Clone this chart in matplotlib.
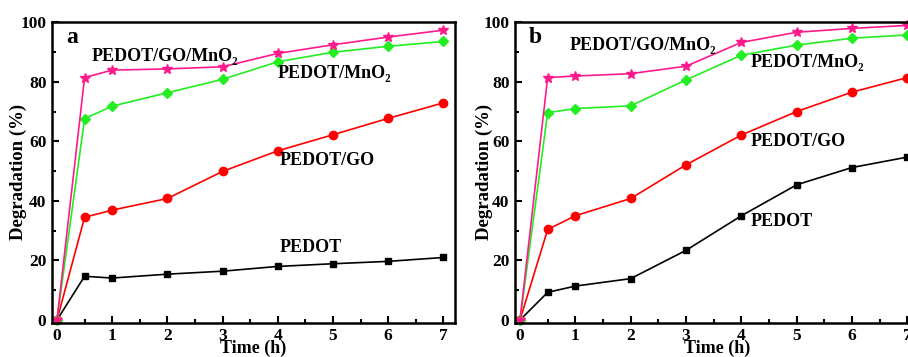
import matplotlib
matplotlib.use('Agg')
import matplotlib.pyplot as plt
from matplotlib.ticker import MultipleLocator

plt.rcParams['font.family'] = ['Liberation Serif', 'DejaVu Serif']
plt.rcParams['font.weight'] = 'bold'

time_h = [0, 0.5, 1, 2, 3, 4, 5, 6, 7]

# panel a
a_pedot = [0, 14.7, 14.1, 15.4, 16.4, 18.0, 18.9, 19.7, 21.0]
a_pedot_go = [0, 34.5, 36.9, 40.8, 49.9, 56.8, 62.2, 67.7, 72.9]
a_pedot_mno2 = [0, 67.6, 71.8, 76.3, 80.8, 86.7, 89.9, 91.9, 93.5]
a_pedot_go_mno2 = [0, 81.4, 83.9, 84.3, 85.0, 89.5, 92.4, 95.0, 97.3]

# panel b
b_pedot = [0, 9.3, 11.4, 13.9, 23.4, 35.0, 45.4, 51.2, 54.7]
b_pedot_go = [0, 30.4, 35.0, 40.8, 52.1, 62.1, 70.0, 76.5, 81.4]
b_pedot_mno2 = [0, 69.6, 71.0, 71.9, 80.6, 88.9, 92.3, 94.6, 95.7]
b_pedot_go_mno2 = [0, 81.4, 81.9, 82.7, 85.2, 93.2, 96.6, 97.9, 98.9]

names = ['PEDOT', 'PEDOT/GO', 'PEDOT/MnO\u2082', 'PEDOT/GO/MnO\u2082']
colors = ['black', '#ff0000', '#22ee22', '#ff1a8c']
markers = ['s', 'o', 'D', '*']
msizes = [5, 6, 5.5, 7]

# label positions (x, y) in data units
a_label_pos = [(4.04, 24.2), (4.04, 53.4), (4.0, 82.9), (0.63, 88.3)]
b_label_pos = [(4.16, 33.0), (4.16, 60.0), (4.16, 86.6), (0.9, 92.3)]

fig = plt.figure(figsize=(9.08, 3.57), dpi=100)
ax_a = fig.add_axes([52 / 908, 0.096, 403 / 908, 0.842])
ax_b = fig.add_axes([515 / 908, 0.096, 404 / 908, 0.842])


def panel(ax, series, label_pos, letter, ylab_x):
    for vals, c, m, ms, name, pos in zip(series, colors, markers, msizes, names, label_pos):
        ax.plot(time_h, vals, color=c, marker=m, markersize=ms, lw=1.2, clip_on=False)
        ax.text(pos[0], pos[1], name, fontsize=13, fontweight='bold', va='center', ha='left')
    ax.text(0.16, 95, letter, fontsize=17, fontweight='bold', va='center', ha='left')
    ax.set_xlim(-0.09, 7.21)
    ax.set_ylim(-0.9, 100)
    ax.xaxis.set_major_locator(MultipleLocator(1))
    ax.xaxis.set_minor_locator(MultipleLocator(0.5))
    ax.yaxis.set_major_locator(MultipleLocator(20))
    ax.yaxis.set_minor_locator(MultipleLocator(10))
    ax.tick_params(which='both', direction='in', top=False, right=False, width=1.5, labelsize=12.5, pad=4)
    ax.tick_params(which='major', length=5)
    ax.tick_params(which='minor', length=3)
    for lab in ax.get_xticklabels() + ax.get_yticklabels():
        lab.set_fontweight('bold')
    for sp in ax.spines.values():
        sp.set_linewidth(1.8)
    ax.set_xlabel('Time (h)', fontsize=13, fontweight='bold', labelpad=-3)
    ax.set_ylabel('Degradation (%)', fontsize=13.5, fontweight='bold')
    ax.yaxis.set_label_coords(ylab_x, 0.5)


panel(ax_a, [a_pedot, a_pedot_go, a_pedot_mno2, a_pedot_go_mno2], a_label_pos, 'a', -0.061)
panel(ax_b, [b_pedot, b_pedot_go, b_pedot_mno2, b_pedot_go_mno2], b_label_pos, 'b', -0.054)

fig.savefig('out.png', dpi=100)
